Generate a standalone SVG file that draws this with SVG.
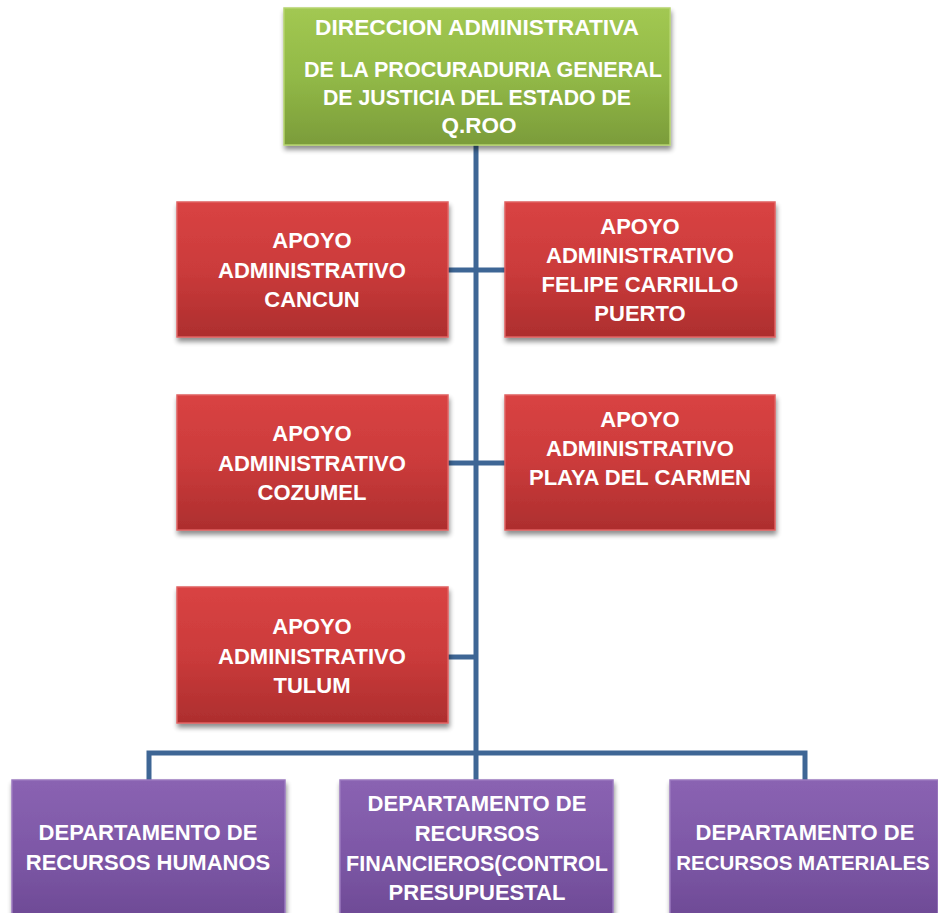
<svg xmlns="http://www.w3.org/2000/svg" width="938" height="913" viewBox="0 0 938 913">
<defs>
<linearGradient id="gGreen" x1="0" y1="0" x2="0" y2="1">
<stop offset="0" stop-color="#a2c852"/><stop offset="0.5" stop-color="#92b947"/><stop offset="1" stop-color="#7b9c3a"/>
</linearGradient>
<linearGradient id="gRed" x1="0" y1="0" x2="0" y2="1">
<stop offset="0" stop-color="#d94343"/><stop offset="0.5" stop-color="#cb3b3b"/><stop offset="1" stop-color="#ad2e2e"/>
</linearGradient>
<linearGradient id="gPurple" x1="0" y1="0" x2="0" y2="1">
<stop offset="0" stop-color="#8a63b2"/><stop offset="0.5" stop-color="#7d57a6"/><stop offset="1" stop-color="#6b4892"/>
</linearGradient>
<filter id="sh" x="-10%" y="-10%" width="120%" height="130%">
<feGaussianBlur in="SourceAlpha" stdDeviation="2.5"/>
<feOffset dx="1" dy="4" result="b"/>
<feComponentTransfer><feFuncA type="linear" slope="0.45"/></feComponentTransfer>
<feMerge><feMergeNode/><feMergeNode in="SourceGraphic"/></feMerge>
</filter>
</defs>
<style>
.t{font-family:"Liberation Sans",Arial,sans-serif;font-weight:bold;fill:#ffffff;text-anchor:middle;font-size:22px}
.tt{font-size:22.5px}
.sm{font-size:20.5px}
.green{fill:url(#gGreen);stroke:#b5d46e;stroke-width:1.5}
.red{fill:url(#gRed);stroke:#e06060;stroke-width:1.5}
.purple{fill:url(#gPurple);stroke:#9a78bf;stroke-width:1.5}
.c{fill:none;stroke:#3e6695;stroke-width:5}
</style>
<rect width="938" height="913" fill="#ffffff"/>
<g id="connectors">
<line class="c" x1="476" y1="145" x2="476" y2="782"/>
<line class="c" x1="448" y1="270" x2="506" y2="270"/>
<line class="c" x1="448" y1="463" x2="506" y2="463"/>
<line class="c" x1="448" y1="657" x2="476" y2="657"/>
<polyline class="c" points="149,782 149,753 805,753 805,782"/>
</g>
<g id="n-direccion">
<rect class="green" x="284" y="8" width="386" height="137" filter="url(#sh)"/>
<text class="t tt" x="477" y="35" textLength="324" lengthAdjust="spacingAndGlyphs">DIRECCION ADMINISTRATIVA</text>
<text class="t tt" x="483" y="77" textLength="358" lengthAdjust="spacingAndGlyphs">DE LA PROCURADURIA GENERAL</text>
<text class="t tt" x="477" y="105" textLength="308" lengthAdjust="spacingAndGlyphs">DE JUSTICIA DEL ESTADO DE</text>
<text class="t tt" x="479" y="133">Q.ROO</text>
</g>
<g id="n-cancun">
<rect class="red" x="177" y="202" width="271" height="135" filter="url(#sh)"/>
<text class="t" x="312" y="248">APOYO</text>
<text class="t" x="312" y="278">ADMINISTRATIVO</text>
<text class="t" x="312" y="307">CANCUN</text>
</g>
<g id="n-felipe">
<rect class="red" x="505" y="202" width="270" height="135" filter="url(#sh)"/>
<text class="t" x="640" y="234">APOYO</text>
<text class="t" x="640" y="263">ADMINISTRATIVO</text>
<text class="t" x="640" y="292">FELIPE CARRILLO</text>
<text class="t" x="640" y="321">PUERTO</text>
</g>
<g id="n-cozumel">
<rect class="red" x="177" y="395" width="271" height="135" filter="url(#sh)"/>
<text class="t" x="312" y="441">APOYO</text>
<text class="t" x="312" y="471">ADMINISTRATIVO</text>
<text class="t" x="312" y="500">COZUMEL</text>
</g>
<g id="n-playa">
<rect class="red" x="505" y="395" width="270" height="135" filter="url(#sh)"/>
<text class="t" x="640" y="427">APOYO</text>
<text class="t" x="640" y="456">ADMINISTRATIVO</text>
<text class="t" x="640" y="485" textLength="222" lengthAdjust="spacingAndGlyphs">PLAYA DEL CARMEN</text>
</g>
<g id="n-tulum">
<rect class="red" x="177" y="587" width="271" height="136" filter="url(#sh)"/>
<text class="t" x="312" y="634">APOYO</text>
<text class="t" x="312" y="664">ADMINISTRATIVO</text>
<text class="t" x="312" y="693">TULUM</text>
</g>
<g id="n-humanos">
<rect class="purple" x="12" y="780" width="273" height="150" filter="url(#sh)"/>
<text class="t" x="148" y="840">DEPARTAMENTO DE</text>
<text class="t" x="148" y="870">RECURSOS HUMANOS</text>
</g>
<g id="n-financieros">
<rect class="purple" x="340" y="780" width="273" height="150" filter="url(#sh)"/>
<text class="t" x="477" y="811">DEPARTAMENTO DE</text>
<text class="t" x="477" y="841">RECURSOS</text>
<text class="t" x="477" y="871" textLength="262" lengthAdjust="spacingAndGlyphs">FINANCIEROS(CONTROL</text>
<text class="t" x="477" y="900">PRESUPUESTAL</text>
</g>
<g id="n-materiales">
<rect class="purple" x="670" y="780" width="268" height="150" filter="url(#sh)"/>
<text class="t" x="805" y="840">DEPARTAMENTO DE</text>
<text class="t sm" x="803" y="870">RECURSOS MATERIALES</text>
</g>
</svg>
